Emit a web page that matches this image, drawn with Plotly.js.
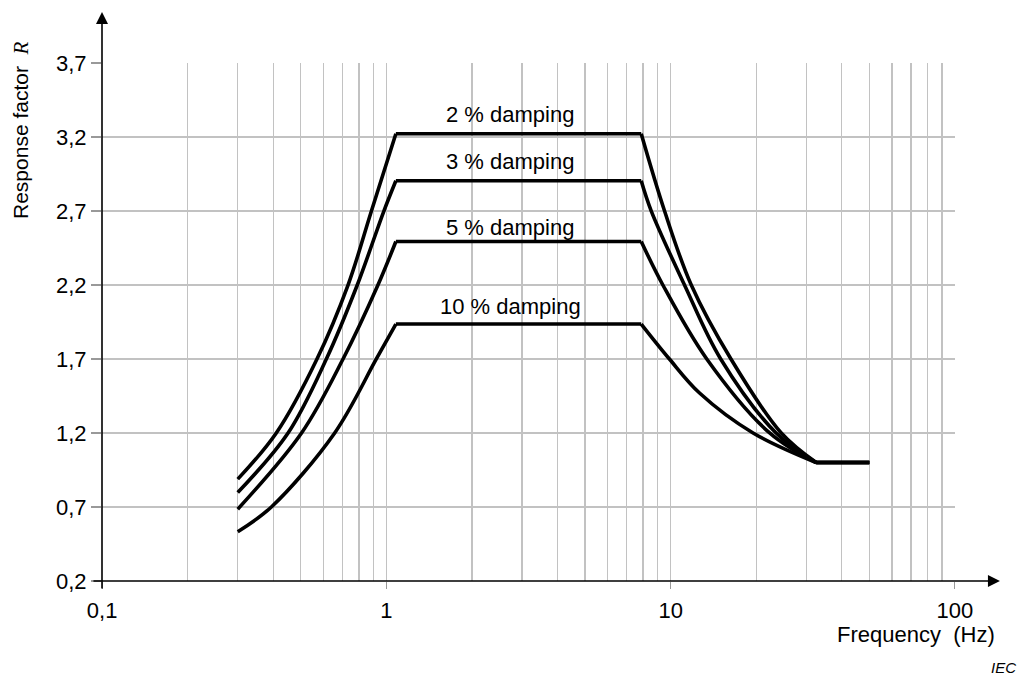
<!DOCTYPE html>
<html>
<head>
<meta charset="utf-8">
<script src="https://cdn.plot.ly/plotly-3.0.1.min.js"></script>
<style>
  html, body { margin: 0; padding: 0; background: #fff; }
  #chart { width: 1024px; height: 675px; }
</style>
</head>
<body>
<div id="chart"></div>
<script>
// ---- Data ----
const damping_labels = ["2 % damping", "3 % damping", "5 % damping", "10 % damping"];

const freq_2  = [0.3, 0.41, 0.57, 0.733, 0.886, 1.08, 7.88, 9.52, 11.82, 16.3, 24.5, 32.5, 50];
const r_2     = [0.888, 1.2, 1.7, 2.2, 2.7, 3.222, 3.222, 2.7, 2.2, 1.7, 1.2, 1.0, 1.0];

const freq_3  = [0.3, 0.451, 0.615, 0.79, 0.98, 1.08, 7.88, 8.55, 11.19, 15.0, 23.5, 32.5, 50];
const r_3     = [0.797, 1.2, 1.7, 2.2, 2.7, 2.905, 2.905, 2.7, 2.2, 1.7, 1.2, 1.0, 1.0];

const freq_5  = [0.3, 0.503, 0.704, 0.934, 1.08, 7.88, 9.39, 13.4, 22.3, 32.5, 50];
const r_5     = [0.685, 1.2, 1.7, 2.2, 2.494, 2.494, 2.2, 1.7, 1.2, 1.0, 1.0];

const freq_10 = [0.3, 0.394, 0.658, 0.922, 1.08, 7.88, 9.9, 12.64, 19.5, 32.5, 50];
const r_10    = [0.533, 0.7, 1.2, 1.7, 1.936, 1.936, 1.7, 1.47, 1.2, 1.0, 1.0];

const x_major_ticks = [0.1, 1, 10, 100];
const x_major_labels = ["0,1", "1", "10", "100"];
const x_minor_ticks = [0.2,0.3,0.4,0.5,0.6,0.7,0.8,0.9, 2,3,4,5,6,7,8,9, 20,30,40,50,60,70,80,90];
const y_ticks = [0.2, 0.7, 1.2, 1.7, 2.2, 2.7, 3.2, 3.7];
const y_labels = ["0,2", "0,7", "1,2", "1,7", "2,2", "2,7", "3,2", "3,7"];

// ---- Styling ----
const FONT = "Liberation Sans, Arial, Helvetica, sans-serif";
const GRID = "#c2c2c2";

const series = [
  { x: freq_2,  y: r_2 },
  { x: freq_3,  y: r_3 },
  { x: freq_5,  y: r_5 },
  { x: freq_10, y: r_10 }
];

// Each curve: smooth rise, straight plateau, smooth fall, straight tail.
const traces = [];
series.forEach((s, k) => {
  const n = s.y.length;
  let ps = 0;
  while (ps < n - 1 && s.y[ps] !== s.y[ps + 1]) ps++;   // plateau start
  const pe = ps + 1;                                      // plateau end
  const ts = n - 2;                                       // tail start
  const parts = [
    [0, ps, "spline"],
    [ps, pe, "linear"],
    [pe, ts, "spline"],
    [ts, n - 1, "linear"]
  ];
  parts.forEach(([a, b, shape]) => {
    traces.push({
      type: "scatter", mode: "lines",
      x: s.x.slice(a, b + 1), y: s.y.slice(a, b + 1),
      name: damping_labels[k],
      line: { color: "#000", width: 3.6, shape: shape, smoothing: 1 },
      hoverinfo: "skip", showlegend: false
    });
  });
});

// label positions: x in log10 units (log axis), y in data units
const labelX = Math.log10(2.73);
const labelY = [3.352, 3.036, 2.592, 2.058];

const annotations = damping_labels.map((t, i) => ({
  text: t, x: labelX, y: labelY[i], xref: "x", yref: "y",
  showarrow: false, xanchor: "center", yanchor: "middle",
  font: { family: FONT, size: 22, color: "#000" }
}));

// axis arrows
annotations.push({
  xref: "paper", yref: "paper", x: 1.0527, y: 0, ax: -908, ay: 0,
  axref: "pixel", ayref: "pixel", text: "", showarrow: true,
  arrowhead: 2, arrowsize: 1.5, arrowwidth: 1.6, arrowcolor: "#000"
});
annotations.push({
  xref: "paper", yref: "paper", x: 0, y: 1.0985, ax: 0, ay: 578,
  axref: "pixel", ayref: "pixel", text: "", showarrow: true,
  arrowhead: 2, arrowsize: 1.5, arrowwidth: 1.6, arrowcolor: "#000"
});

// axis titles
annotations.push({
  xref: "paper", yref: "paper",
  x: (916 - 102) / 853, y: -(634 - 581) / 518,
  text: "Frequency  (Hz)", showarrow: false,
  xanchor: "center", yanchor: "middle",
  font: { family: FONT, size: 22, color: "#000" }
});
annotations.push({
  xref: "paper", yref: "paper",
  x: (1003 - 102) / 853, y: -(667 - 581) / 518,
  text: "<i>IEC</i>", showarrow: false,
  xanchor: "center", yanchor: "middle",
  font: { family: FONT, size: 15, color: "#000" }
});
annotations.push({
  xref: "paper", yref: "paper",
  x: (21 - 102) / 853, y: (581 - 130) / 518,
  text: "Response factor  <span style=\"font-family:'Liberation Serif',serif\"><i>R</i></span>",
  showarrow: false, textangle: -90,
  xanchor: "center", yanchor: "middle",
  font: { family: FONT, size: 21, color: "#000" }
});

const layout = {
  width: 1024, height: 675,
  margin: { l: 102, r: 69, t: 63, b: 94, pad: 0 },
  paper_bgcolor: "#fff", plot_bgcolor: "#fff",
  separators: ", ",
  showlegend: false,
  font: { family: FONT, size: 21, color: "#000" },
  xaxis: {
    type: "log",
    range: [-1.0004, 2.0004],
    tickmode: "array",
    tickvals: x_major_ticks,
    ticktext: x_major_labels,
    ticks: "outside", ticklen: 7, tickwidth: 1.2, tickcolor: "#999",
    ticklabelstandoff: 3,
    showgrid: true, gridcolor: GRID, gridwidth: 1.4,
    minor: { tickmode: "array", tickvals: x_minor_ticks, showgrid: true, gridcolor: GRID, gridwidth: 1.4, ticks: "" },
    zeroline: false, showline: false,
    tickfont: { family: FONT, size: 22, color: "#000" },
    fixedrange: true
  },
  yaxis: {
    range: [0.1995, 3.7005],
    tickmode: "array",
    tickvals: y_ticks,
    ticktext: y_labels,
    ticks: "outside", ticklen: 10, tickwidth: 1.2, tickcolor: "#999",
    showgrid: true, gridcolor: GRID, gridwidth: 1.4,
    zeroline: false, showline: false,
    tickfont: { family: FONT, size: 22, color: "#000" },
    fixedrange: true
  },
  annotations: annotations
};

Plotly.newPlot("chart", traces, layout, { displayModeBar: false, staticPlot: true });
</script>
</body>
</html>
